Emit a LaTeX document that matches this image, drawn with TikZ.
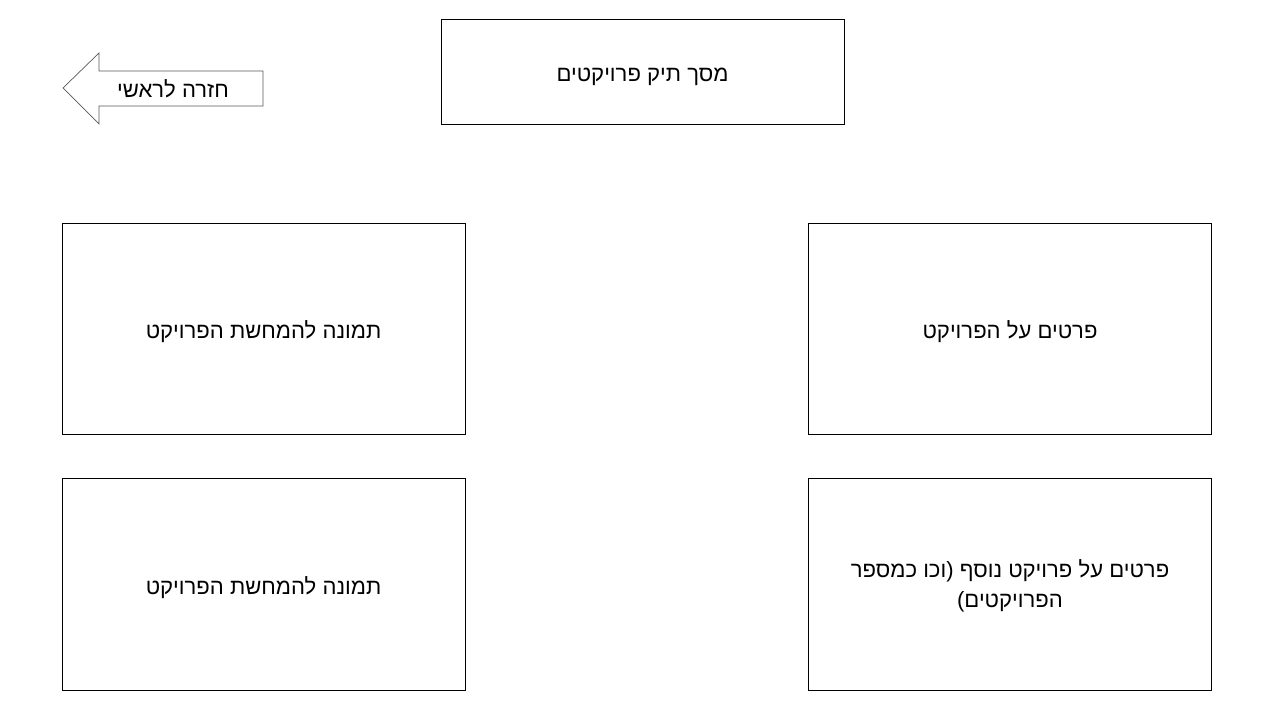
\documentclass[tikz,border=0pt]{standalone}
\usepackage{fontspec}
\usetikzlibrary{positioning}
\TeXXeTstate=1
\newfontfamily\hebfont[Script=Hebrew]{Liberation Sans}

\begin{document}
\begin{tikzpicture}[x=0.025cm,y=-0.025cm,line width=0.6pt,node distance=1.1cm,font=\hebfont\fontsize{15.7}{21.3}\selectfont]
 \tikzstyle{every node}=[text height=14.2pt,text depth=0pt]
 \tikzstyle{box}=[draw,rectangle,align=center,minimum width=10.075cm,minimum height=5.275cm,inner sep=0pt]
 \tikzstyle{backarrow}=[draw=black!65,line width=0.5pt,fill=white]
 \useasboundingbox (0,0) rectangle (1280,720);

   \node[box,minimum height=2.625cm] (title) at (642.5,71.5) {\beginR מסך תיק פרויקטים\endR};
   \node[box] (pic1) at (263.5,328.5) {\beginR תמונה להמחשת הפרויקט\endR};
   \node[box] (info1) at (1010,328.5) {\beginR פרטים על הפרויקט\endR};
   \node[box] (pic2) [below=of pic1] {\beginR תמונה להמחשת הפרויקט\endR};
   \node[box,text height=33.3pt] (info2) [below=of info1] {\beginR פרטים על פרויקט נוסף (וכו כמספר\endR\\\beginR הפרויקטים)\endR};

   % back arrow
   \draw[backarrow] (63,88) -- (99,53) -- (99,71) -- (263,71) -- (263,106) -- (99,106) -- (99,124) -- cycle;
   \node (back) at (173,88) {\beginR חזרה לראשי\endR};

\end{tikzpicture}
\end{document}
